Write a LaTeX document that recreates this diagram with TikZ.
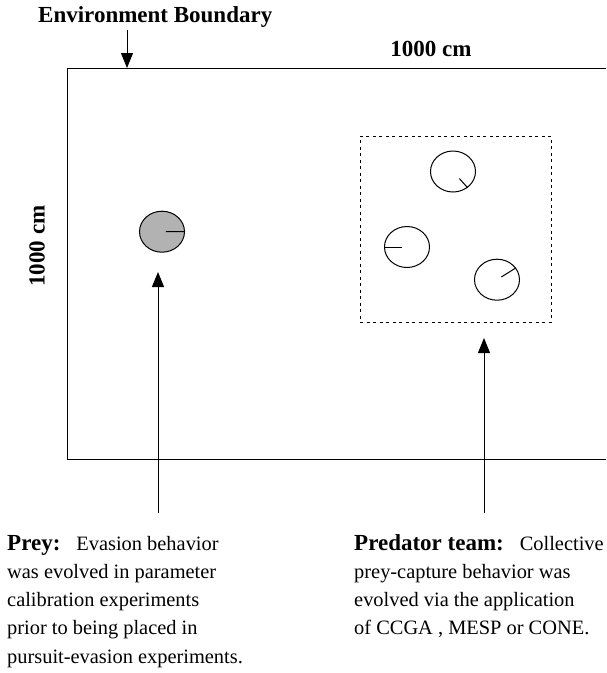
\documentclass[tikz,border=0pt]{standalone}
\usepackage{fontspec}
\setmainfont{Liberation Serif}
\usetikzlibrary{positioning}
\usetikzlibrary{arrows.meta}
\usetikzlibrary{calc}
\usetikzlibrary{shapes.geometric}

\newcommand{\bodyfont}{\fontsize{20.4}{28.3}\selectfont}
\newcommand{\headfont}{\fontsize{23}{28.3}\selectfont\bfseries}

\begin{document}
\begin{tikzpicture}[
    x=1pt, y=-1pt,
    agent/.style={ellipse, draw=black, line width=1pt, minimum width=45pt, minimum height=41pt, inner sep=0pt},
    heading/.style={line width=1pt},
    pointer/.style={line width=1pt, -{Triangle[length=15pt,width=12pt]}},
    headlabel/.style={inner sep=0pt, font=\headfont},
    notetext/.style={inner sep=0pt, align=left, font=\bodyfont},
]
    \useasboundingbox (0,0) rectangle (606,673);

    \node[headlabel, anchor=base west] (envlabel) at (38,22) {Environment Boundary};
    \node[headlabel, anchor=base] (widthlabel) at (431,56) {1000 cm};
    \node[headlabel, rotate=90] (heightlabel) at (37,246) {1000 cm};

    % arena boundary, open on the right
    \draw[line width=1pt] (606,68) -- (67,68) -- (67,459) -- (606,459);

    % predator team area
    \node[draw, dash pattern=on 3pt off 3.5pt, line width=0.9pt, minimum width=191pt, minimum height=186pt, inner sep=0pt] (teambox) at (455.5,229) {};

    \node[agent, fill=gray!60] (prey) at (162,231.7) {};
    \node[agent] (pred1) at (453,171.5) {};
    \node[agent] (pred2) at (407,247) {};
    \node[agent] (pred3) at (497,279.7) {};

    % heading markers
    \draw[heading] ($(prey.center)!0.17!(prey.east)$) -- (prey.east);
    \draw[heading] ($(pred1.center)!0.43!(pred1.-48)$) -- (pred1.-48);
    \draw[heading] ($(pred2.center)!0.23!(pred2.west)$) -- (pred2.west);
    \draw[heading] ($(pred3.center)!0.23!(pred3.32)$) -- (pred3.32);

    % notes (base = last line)
    \node[notetext, anchor=base west] (preynote) at (7,663.2) {{\headfont Prey:}\hspace{16pt}Evasion behavior\\was evolved in parameter\\calibration experiments\\prior to being placed in\\pursuit-evasion experiments.};
    \node[notetext, anchor=base west] (prednote) at (354,634.9) {{\headfont Predator team:}\hspace{16pt}Collective\\prey-capture behavior was\\evolved via the application\\of CCGA , MESP or CONE.};

    % arrows
    \coordinate (envtail) at (127,30);
    \coordinate (envtip) at (127,68);
    \coordinate (preytail) at (158,513);
    \coordinate (preytip) at (158,272);
    \coordinate (predtail) at (484,513);
    \coordinate (predtip) at (484,338);

    \draw[pointer] (envtail) -- (envtip);
    \draw[pointer] (preytail) -- (preytip);
    \draw[pointer] (predtail) -- (predtip);
\end{tikzpicture}
\end{document}
